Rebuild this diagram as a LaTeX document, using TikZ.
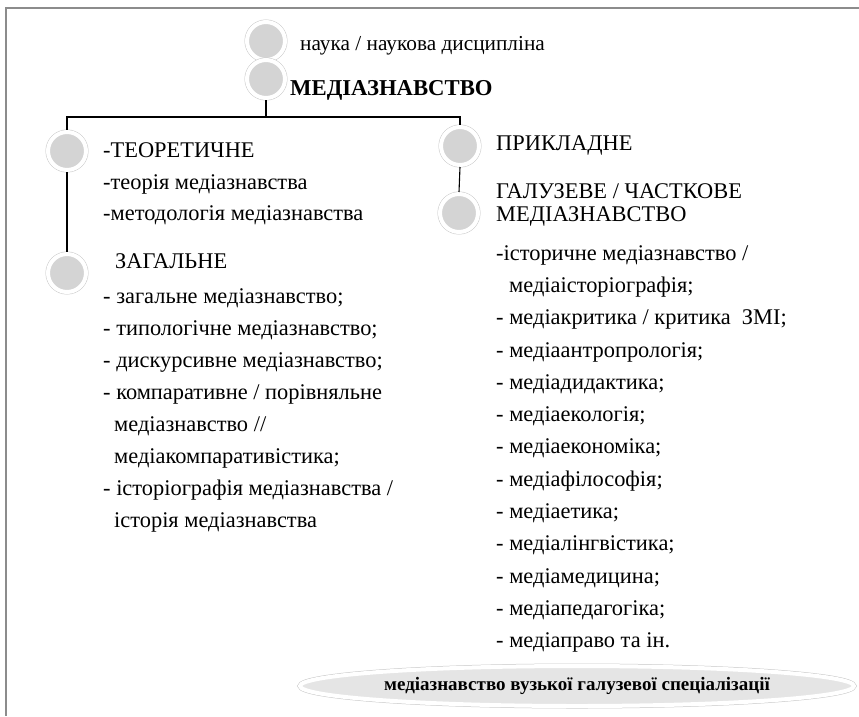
\documentclass[tikz,border=0pt]{standalone}
\usepackage{fontspec}
\setmainfont{Liberation Serif}
\usepackage{tikz}
\usetikzlibrary{shapes.geometric}
\usepackage{xcolor}

\tikzset{
  dot/.style={circle, minimum size=38pt, inner sep=0pt, fill=black!17, draw=white, line width=4pt,
    preaction={draw=black!22, line width=5pt}},
  oval/.style={ellipse, minimum width=554pt, minimum height=40pt, inner sep=0pt, fill=black!10, draw=white, line width=4pt,
    preaction={draw=black!22, line width=5pt}},
  txt/.style={anchor=base west, inner sep=0pt, font=\fontsize{22.4}{26}\selectfont},
  link/.style={draw=black, line width=1.1pt}
}

\begin{document}
\begin{tikzpicture}[x=1pt,y=-1pt]
\useasboundingbox (0,0) rectangle (859,716);
\draw[black!45, line width=1.5pt] (859,8) -- (6,8) -- (6,716);

% circles
\node[dot] (c1) at (266,41) {};
\node[dot] (c2) at (266,79) {};
\node[dot] (c3) at (67,151) {};
\node[dot] (c4) at (67,273) {};
\node[dot] (c5) at (460,146) {};
\node[dot] (c6) at (459,213) {};

\draw[link] (c2.south) -- ++(0,17) coordinate (fork) -| (c3.north);
\draw[link] (fork) -| (c5.north);
\draw[link] (c3.south) -- (c4.north);
\draw[link] (c5.south) -- (c6.north);

% texts
\node[txt, font=\fontsize{21.3}{25}\selectfont] (sci) at (300,50) {наука / наукова дисципліна};
\node[txt, font=\fontsize{22.7}{25}\selectfont\bfseries] (med) at (290,95) {МЕДІАЗНАВСТВО};

\node[txt] (teor) at (103,157) {-ТЕОРЕТИЧНЕ};
\node[txt] (teor2) at (103,189) {-теорія медіазнавства};
\node[txt] (teor3) at (103,220) {-методологія медіазнавства};
\node[txt] (zag) at (115,268) {ЗАГАЛЬНЕ};
\foreach \t [count=\i] in {- загальне медіазнавство;, - типологічне медіазнавство;,
    - дискурсивне медіазнавство;, - компаративне / порівняльне,
    \hspace*{11pt}медіазнавство //, \hspace*{11pt}медіакомпаративістика;,
    - історіографія медіазнавства /, \hspace*{11pt}історія медіазнавства}
  \node[txt] (z\i) at (103,{303+32*(\i-1)}) {\t};

\node[txt] (prik) at (496,150) {ПРИКЛАДНЕ};
\node[txt] (galuz) at (496,198) {ГАЛУЗЕВЕ / ЧАСТКОВЕ};
\node[txt] (galuz2) at (496,221) {МЕДІАЗНАВСТВО};
\foreach \t [count=\i] in {-історичне медіазнавство /, \hspace*{13pt}медіаісторіографія;,
    - медіакритика / критика\ \ ЗМІ;, - медіаантропрологія;, - медіадидактика;,
    - медіаекологія;, - медіаекономіка;, - медіафілософія;, - медіаетика;,
    - медіалінгвістика;, - медіамедицина;, - медіапедагогіка;, - медіаправо та ін.}
  \node[txt] (g\i) at (496,{260+32.33*(\i-1)}) {\t};

\node[oval, font=\fontsize{19}{21}\selectfont\bfseries] (spec) at (577,686) {медіазнавство вузької галузевої спеціалізації};
\end{tikzpicture}
\end{document}
